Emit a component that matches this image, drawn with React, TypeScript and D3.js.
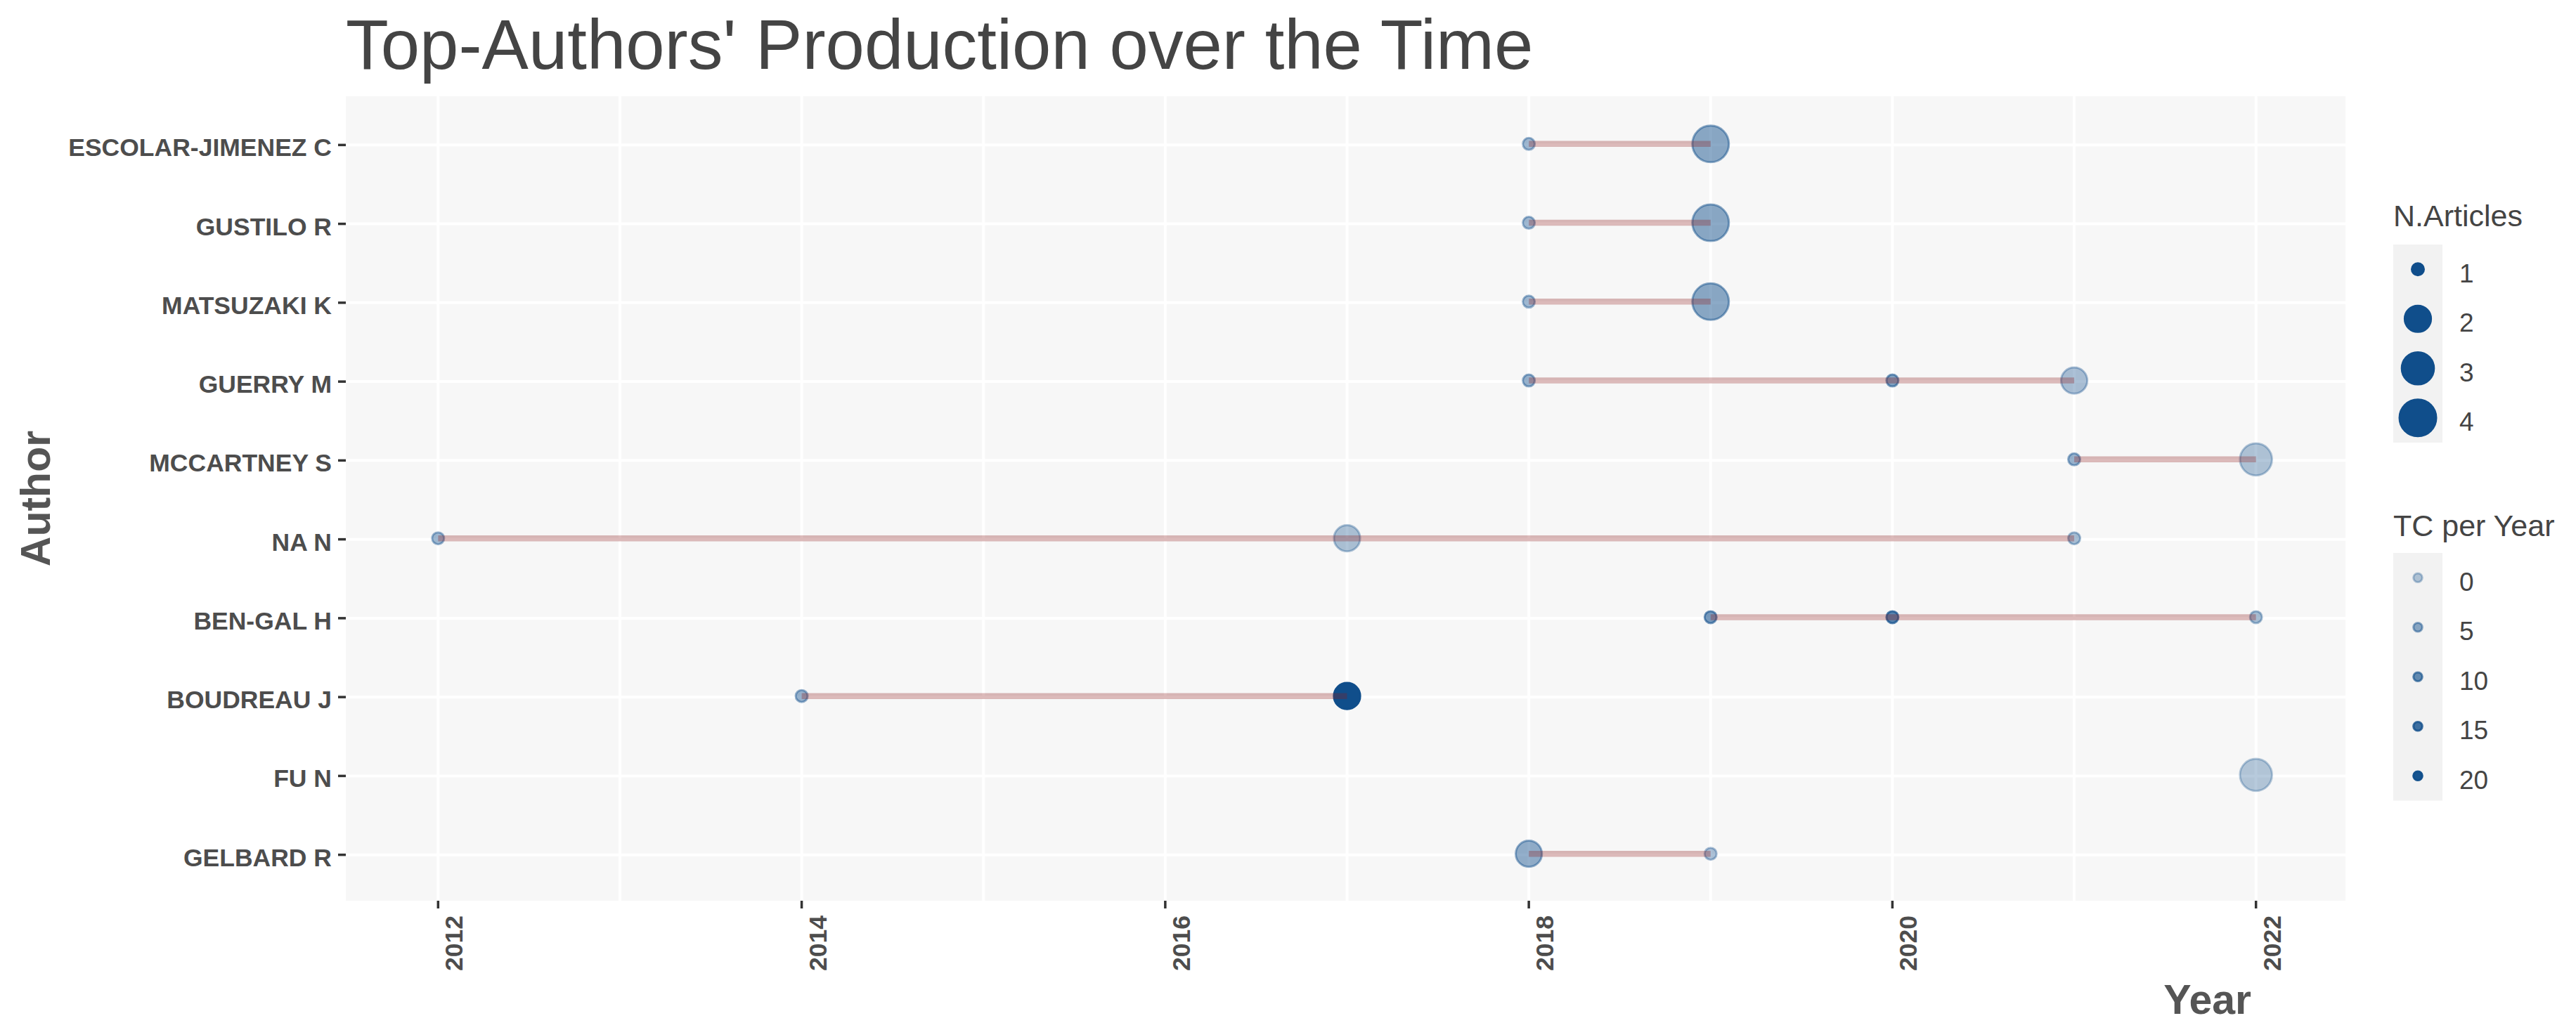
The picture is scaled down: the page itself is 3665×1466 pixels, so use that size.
import * as d3 from 'd3'

// authors from top to bottom
const authors = [
  'ESCOLAR-JIMENEZ C',
  'GUSTILO R',
  'MATSUZAKI K',
  'GUERRY M',
  'MCCARTNEY S',
  'NA N',
  'BEN-GAL H',
  'BOUDREAU J',
  'FU N',
  'GELBARD R',
]

// one entry per point
const pointAuthor = [
  'ESCOLAR-JIMENEZ C', 'ESCOLAR-JIMENEZ C',
  'GUSTILO R', 'GUSTILO R',
  'MATSUZAKI K', 'MATSUZAKI K',
  'GUERRY M', 'GUERRY M', 'GUERRY M',
  'MCCARTNEY S', 'MCCARTNEY S',
  'NA N', 'NA N', 'NA N',
  'BEN-GAL H', 'BEN-GAL H', 'BEN-GAL H',
  'BOUDREAU J', 'BOUDREAU J',
  'FU N',
  'GELBARD R', 'GELBARD R',
]
const pointYear = [2018, 2019, 2018, 2019, 2018, 2019, 2018, 2020, 2021, 2021, 2022, 2012, 2017, 2021, 2019, 2020, 2022, 2014, 2017, 2022, 2018, 2019]
const pointFreq = [1, 4, 1, 4, 1, 4, 1, 1, 2, 1, 3, 1, 2, 1, 1, 1, 1, 1, 2, 3, 2, 1]
const pointTC = [3, 5.5, 3, 5.5, 3, 5.5, 4, 7, 1.5, 4, 0.5, 3, 1, 2, 8, 12, 2, 4, 21, 0, 4.5, 1.5]

const yearTicks = [2012, 2014, 2016, 2018, 2020, 2022]
const minorYears = [2013, 2015, 2017, 2019, 2021]
const freqBreaks = [1, 2, 3, 4]
const tcBreaks = [0, 5, 10, 15, 20]

const W = 3665
const H = 1466
const panel = { left: 492, right: 3337, top: 137, bottom: 1282 }

const FONT = '"Liberation Sans", Arial, sans-serif'
const POINT_COLOR = '#104E8B'
const LINE_COLOR = '#8B1A1A'

export default function App() {
  const x = d3.scaleLinear().domain([2011.5, 2022.5]).range([494, 3339])
  const y = d3.scalePoint<string>().domain(authors).range([139, 1284]).padding(0.6)

  // ggplot-like size scale: area ~ value, size range 2..6
  const [fMin, fMax] = d3.extent(pointFreq) as [number, number]
  const sizeMm = d3.scaleLinear().domain([0, 1]).range([2, 6])
  const diameter = (f: number) => 8.75 * sizeMm(Math.sqrt((f - fMin) / (fMax - fMin))) + 2.5
  const alpha = d3.scaleLinear().domain([0, 21]).range([0.3, 1])
  const strokeW = 3

  const points = pointYear.map((yr, i) => ({
    author: pointAuthor[i],
    year: yr,
    freq: pointFreq[i],
    tc: pointTC[i],
  }))

  const segs = authors.map((a) => {
    const yrs = points.filter((p) => p.author === a).map((p) => p.year)
    const [y0, y1] = d3.extent(yrs) as [number, number]
    return { author: a, y0, y1 }
  })

  const legendX = 3405
  const keyW = 70
  const keyH = 70.5
  const sizeTop = 348
  const tcTop = 787

  return (
    <svg
      width={W}
      height={H}
      viewBox={`0 0 ${W} ${H}`}
      style={{ position: 'absolute', left: 0, top: 0, background: '#fff' }}
      fontFamily={FONT}
    >
      {/* title */}
      <text x={panel.left} y={98} fontSize={99.5} fill="#444444">
        Top-Authors' Production over the Time
      </text>

      {/* panel */}
      <rect
        x={panel.left}
        y={panel.top}
        width={panel.right - panel.left}
        height={panel.bottom - panel.top}
        fill="#F7F7F7"
      />
      {minorYears.concat(yearTicks).map((yr) => (
        <line key={'gx' + yr} x1={x(yr)} x2={x(yr)} y1={panel.top} y2={panel.bottom} stroke="#fff" strokeWidth={4} />
      ))}
      {authors.map((a) => (
        <line key={'gy' + a} x1={panel.left} x2={panel.right} y1={y(a)} y2={y(a)} stroke="#fff" strokeWidth={4} />
      ))}

      {/* points */}
      {points.map((p, i) => (
        <circle
          key={'p' + i}
          cx={x(p.year)}
          cy={y(p.author)! - 1.5}
          r={(diameter(p.freq) - strokeW) / 2}
          fill={POINT_COLOR}
          fillOpacity={alpha(p.tc)}
          stroke={POINT_COLOR}
          strokeOpacity={alpha(p.tc)}
          strokeWidth={strokeW}
        />
      ))}

      {/* author spans */}
      {segs.map((s) => (
        <line
          key={'s' + s.author}
          x1={x(s.y0)}
          x2={x(s.y1)}
          y1={y(s.author)! - 1.5}
          y2={y(s.author)! - 1.5}
          stroke={LINE_COLOR}
          strokeOpacity={0.3}
          strokeWidth={8.5}
        />
      ))}

      {/* y axis */}
      {authors.map((a) => (
        <g key={'yl' + a}>
          <line x1={panel.left - 11} x2={panel.left} y1={y(a)} y2={y(a)} stroke="#333333" strokeWidth={3.5} />
          <text
            x={panel.left - 20}
            y={y(a)}
            dy="0.45em"
            textAnchor="end"
            fontSize={35.5}
            fontWeight="bold"
            fill="#4D4D4D"
          >
            {a}
          </text>
        </g>
      ))}

      {/* x axis */}
      {yearTicks.map((yr) => (
        <g key={'xl' + yr}>
          <line x1={x(yr)} x2={x(yr)} y1={panel.bottom} y2={panel.bottom + 11} stroke="#333333" strokeWidth={3.5} />
          <text
            transform={`translate(${x(yr) + 35},${panel.bottom + 21}) rotate(-90)`}
            textAnchor="end"
            fontSize={35.5}
            fontWeight="bold"
            fill="#4D4D4D"
          >
            {yr}
          </text>
        </g>
      ))}

      {/* axis titles */}
      <text x={3203} y={1443} textAnchor="end" fontSize={59} fontWeight="bold" fill="#555555">
        Year
      </text>
      <text
        transform={`translate(71,${(panel.top + panel.bottom) / 2}) rotate(-90)`}
        textAnchor="middle"
        fontSize={59}
        fontWeight="bold"
        fill="#555555"
      >
        Author
      </text>

      {/* size legend */}
      <text x={legendX} y={322} fontSize={43} fill="#444444">
        N.Articles
      </text>
      <rect x={legendX} y={sizeTop} width={keyW} height={keyH * freqBreaks.length} fill="#F2F2F2" />
      {freqBreaks.map((f, i) => {
        const cy = sizeTop + keyH * (i + 0.5)
        return (
          <g key={'lf' + f}>
            <circle
              cx={legendX + keyW / 2}
              cy={cy}
              r={(diameter(f) - strokeW) / 2}
              fill={POINT_COLOR}
              stroke={POINT_COLOR}
              strokeWidth={strokeW}
            />
            <text x={3499} y={cy} dy="0.5em" fontSize={37} fill="#444444">
              {f}
            </text>
          </g>
        )
      })}

      {/* alpha legend */}
      <text x={legendX} y={763} fontSize={43} fill="#444444">
        TC per Year
      </text>
      <rect x={legendX} y={tcTop} width={keyW} height={keyH * tcBreaks.length} fill="#F2F2F2" />
      {tcBreaks.map((t, i) => {
        const cy = tcTop + keyH * (i + 0.5)
        return (
          <g key={'lt' + t}>
            <circle
              cx={legendX + keyW / 2}
              cy={cy}
              r={(15.6 - strokeW) / 2}
              fill={POINT_COLOR}
              fillOpacity={alpha(t)}
              stroke={POINT_COLOR}
              strokeOpacity={alpha(t)}
              strokeWidth={strokeW}
            />
            <text x={3499} y={cy} dy="0.5em" fontSize={37} fill="#444444">
              {t}
            </text>
          </g>
        )
      })}
    </svg>
  )
}
